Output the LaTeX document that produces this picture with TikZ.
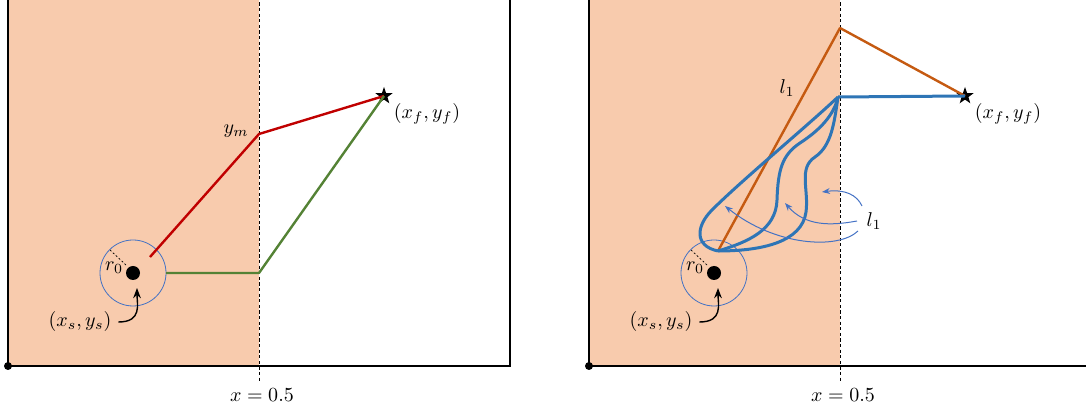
\documentclass[tikz,border=0pt]{standalone}
\usepackage{xcolor}
\usetikzlibrary{arrows.meta,shapes.geometric,calc}
\definecolor{region}{HTML}{F8CBAD}
\definecolor{redpath}{HTML}{C00000}
\definecolor{greenpath}{HTML}{548235}
\definecolor{bluepath}{HTML}{2E75B6}
\definecolor{orangepath}{HTML}{C55A11}
\definecolor{thinblue}{HTML}{4472C4}
\tikzset{
  frame/.style={draw=black, line width=0.8pt},
  border/.style={draw=black, line width=0.5pt, dash pattern=on 1.6pt off 1.2pt},
  radiusline/.style={draw=black, line width=0.35pt, dash pattern=on 1pt off 1pt},
  route/.style={line width=1.2pt, line join=round},
  wander/.style={draw=bluepath, line width=1.5pt, line join=round},
  zone/.style={draw=thinblue, line width=0.4pt},
  goal/.style={star, star points=5, star point ratio=2.5, fill=black, inner sep=0pt, minimum size=9pt},
  pin/.style={-{Stealth[length=1.8mm]}, draw=black, line width=0.7pt},
  hint/.style={-{Stealth[length=1.4mm]}, draw=thinblue, line width=0.5pt},
}
\begin{document}
\begin{tikzpicture}[x=0.5pt, y=-0.5pt]
\useasboundingbox (0,0) rectangle (1086,410);
\clip (0,0) rectangle (1086,410);
% both panels share the same frame
\foreach \dx/\p in {0/L,581/R}{
  \fill[region] (8+\dx,-20) rectangle (259+\dx,366);
  \draw[frame] (8+\dx,-20) -- (8+\dx,366) -- (510+\dx,366) -- (510+\dx,-20);
  \draw[border] (259+\dx,-20) -- (259+\dx,383);
  \fill (8+\dx,366) circle[radius=4];
  \coordinate (src\p) at (133+\dx,273);
  \fill (src\p) circle[radius=7];
  \draw[zone] (src\p) circle[radius=33];
  \draw[radiusline] (126+\dx,265) -- (110+\dx,250);
  \node (rad\p) at (114+\dx,268) {$r_0$};
  \node (start\p) at (80+\dx,322) {$(x_s,y_s)$};
  \coordinate (tip\p) at (137+\dx,288);
  \draw[pin] (start\p.east) .. controls +(24,0) and +(0,16) .. (tip\p);
  \node[goal] (goal\p) at (384+\dx,96) {};
  \node (end\p) at (427+\dx,114) {$(x_f,y_f)$};
  \node (cut\p) at (262+\dx,395) {$x=0.5$};
}
% left panel
\coordinate (ym) at (259,134);
\coordinate (low) at (259,273);
\draw[route, redpath] (150,257) -- (ym) -- (goalL.center);
\draw[route, greenpath] (166,273) -- (low) -- (goalL.center);
\node (ymlabel) at (236,131) {$y_m$};
% right panel
\coordinate (S) at (718,251);
\coordinate (E) at (838,97);
\coordinate (peak) at (840,28);
\draw[route, orangepath] (S) -- (peak) -- (goalR.center);
\node (lone) at (787,88) {$l_1$};
\draw[route, draw=bluepath, line width=1.5pt] (E) -- (goalR.center);
\draw[wander] (S) .. controls (694,246) and (696,226) .. (712,210) .. controls (742,180) and (805,128) .. (E);
\draw[wander] (S) .. controls (748,242) and (776,230) .. (777,200) .. controls (778,170) and (782,155) .. (800,143) .. controls (820,130) and (834,115) .. (E);
\draw[wander] (S) .. controls (762,251) and (802,242) .. (806,212) .. controls (809,190) and (798,168) .. (815,157) .. controls (831,146) and (834,125) .. (E);
\node (ltwo) at (874,221) {$l_1$};
\draw[hint] (858,231) .. controls (838,250) and (775,246) .. (725,206);
\draw[hint] (857,221) .. controls (830,226) and (805,226) .. (785,203);
\draw[hint] (862,206) .. controls (857,195) and (845,189) .. (822,192);
\end{tikzpicture}
\end{document}
